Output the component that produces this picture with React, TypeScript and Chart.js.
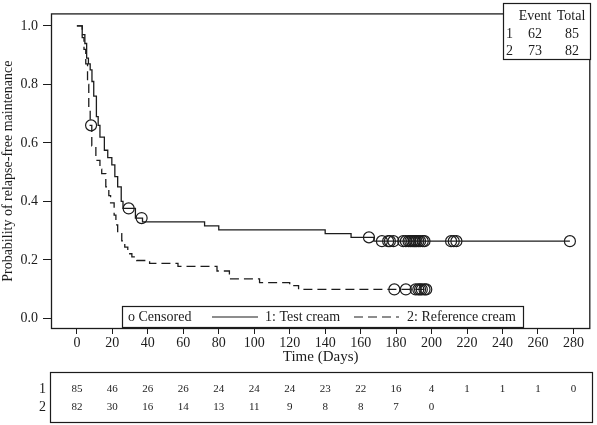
import React, { useEffect, useRef } from "react";
import { Chart, registerables } from "chart.js";
Chart.register(...registerables);

// ---- Data ----
const testTimes = [0, 3, 4.5, 5.5, 6.5, 7.5, 8.5, 9.5, 11, 12, 13, 15.5, 17.4, 19.7, 21.4, 23, 25, 26, 33, 37, 72, 80, 140, 154.6, 167.5, 278];
const testSurv = [1, 0.97, 0.94, 0.89, 0.87, 0.85, 0.81, 0.76, 0.69, 0.66, 0.62, 0.575, 0.55, 0.525, 0.485, 0.45, 0.4, 0.376, 0.343, 0.33, 0.316, 0.303, 0.29, 0.277, 0.264, 0.264];
const testCensored = [29.2, 36.5, 164.7, 172, 175.5, 176.5, 178.5, 184, 185.5, 187, 188, 189, 190, 190.7, 191.5, 192.5, 193.5, 195, 196, 211, 212.5, 214, 278];

const refTimes = [0, 3, 4, 5, 6, 6.7, 7.5, 8.4, 10.7, 13, 14, 16.3, 18, 19, 21, 22, 23, 25.3, 27, 28.7, 31, 33.7, 41, 57, 79, 86, 103, 120, 125, 197];
const refSurv = [1, 0.96, 0.92, 0.87, 0.8, 0.72, 0.66, 0.59, 0.54, 0.51, 0.495, 0.45, 0.42, 0.395, 0.353, 0.32, 0.29, 0.265, 0.244, 0.221, 0.21, 0.198, 0.188, 0.178, 0.162, 0.135, 0.122, 0.112, 0.099, 0.099];
const refCensored = [8, 179, 185.5, 191, 192.5, 193.5, 194.5, 196, 197];

const xTickValues = [0, 20, 40, 60, 80, 100, 120, 140, 160, 180, 200, 220, 240, 260, 280];
const yTickValues = [0, 0.2, 0.4, 0.6, 0.8, 1.0];

const riskTimes = [0, 20, 40, 60, 80, 100, 120, 140, 160, 180, 200, 220, 240, 260, 280];
const riskTest = [85, 46, 26, 26, 24, 24, 24, 23, 22, 16, 4, 1, 1, 1, 0];
const riskRef = [82, 30, 16, 14, 13, 11, 9, 8, 8, 7, 0];

const summaryHeader = ["Event", "Total"];
const summaryRows = [
  ["1", "62", "85"],
  ["2", "73", "82"],
];
const legendLabels = ["o Censored", "1: Test cream", "2: Reference cream"];

const FONT = "'Liberation Serif', 'Times New Roman', serif";
const INK = "#1c1c1c";

function stepValue(times: number[], surv: number[], t: number) {
  let v = surv[0];
  for (let i = 0; i < times.length; i++) if (times[i] <= t) v = surv[i];
  return v;
}

const decorPlugin = {
  id: "decor",
  afterDraw(chart: any) {
    const { ctx, chartArea: a, scales } = chart;
    const xs = scales.x;
    ctx.save();
    // frame
    ctx.strokeStyle = INK;
    ctx.lineWidth = 1.3;
    ctx.strokeRect(a.left + 0.5, a.top + 0.5, a.right - a.left - 1, a.bottom - a.top - 1);

    ctx.fillStyle = INK;
    ctx.textBaseline = "middle";

    // legend box at bottom
    ctx.lineWidth = 1.2;
    ctx.fillStyle = "#fff";
    ctx.fillRect(122.5, 306.5, 401, 21);
    ctx.strokeRect(122.5, 306.5, 401, 21);
    ctx.fillStyle = INK;
    ctx.font = `14px ${FONT}`;
    ctx.textAlign = "left";
    ctx.fillText(legendLabels[0], 128, 317);
    ctx.beginPath();
    ctx.moveTo(212, 317);
    ctx.lineTo(258, 317);
    ctx.stroke();
    ctx.fillText(legendLabels[1], 265, 317);
    ctx.setLineDash([9, 5]);
    ctx.beginPath();
    ctx.moveTo(354, 317);
    ctx.lineTo(399, 317);
    ctx.stroke();
    ctx.setLineDash([]);
    ctx.fillText(legendLabels[2], 407, 317);

    // event / total box
    ctx.fillStyle = "#fff";
    ctx.fillRect(503.5, 3.5, 87, 56);
    ctx.strokeRect(503.5, 3.5, 87, 56);
    ctx.fillStyle = INK;
    ctx.textAlign = "center";
    ctx.fillText(summaryHeader[0], 535, 16);
    ctx.fillText(summaryHeader[1], 571, 16);
    summaryRows.forEach((r, i) => {
      const y = 34 + i * 17.5;
      ctx.textAlign = "left";
      ctx.fillText(r[0], 506, y);
      ctx.textAlign = "center";
      ctx.fillText(r[1], 535, y);
      ctx.fillText(r[2], 572, y);
    });

    // at-risk table
    ctx.strokeRect(50.5, 372.5, 542, 50);
    ctx.font = `14px ${FONT}`;
    ctx.textAlign = "right";
    ctx.fillText("1", 46, 389);
    ctx.fillText("2", 46, 407);
    ctx.font = `11px ${FONT}`;
    ctx.textAlign = "center";
    riskTest.forEach((v, i) => ctx.fillText(String(v), xs.getPixelForValue(riskTimes[i]), 389));
    riskRef.forEach((v, i) => ctx.fillText(String(v), xs.getPixelForValue(riskTimes[i]), 407));
    ctx.restore();
  },
};

export default function App() {
  const ref = useRef<HTMLCanvasElement | null>(null);
  useEffect(() => {
    if (!ref.current) return;
    const circ = {
      pointStyle: "circle",
      pointRadius: 5.5,
      pointBorderWidth: 1.2,
      pointBackgroundColor: "rgba(0,0,0,0)",
      pointBorderColor: INK,
      showLine: false,
    };
    const chart = new Chart(ref.current, {
      type: "line",
      data: {
        datasets: [
          {
            data: testTimes.map((t, i) => ({ x: t, y: testSurv[i] })),
            stepped: true,
            borderColor: INK,
            borderWidth: 1.3,
            pointRadius: 0,
            fill: false,
          },
          {
            data: refTimes.map((t, i) => ({ x: t, y: refSurv[i] })),
            stepped: true,
            borderColor: INK,
            borderWidth: 1.3,
            borderDash: [9, 5],
            pointRadius: 0,
            fill: false,
          },
          {
            ...circ,
            data: testCensored.map((t) => ({ x: t, y: stepValue(testTimes, testSurv, t) })),
          },
          {
            ...circ,
            data: refCensored.map((t) => ({ x: t, y: stepValue(refTimes, refSurv, t) })),
          },
        ] as any,
      },
      options: {
        animation: false,
        responsive: false,
        devicePixelRatio: 1,
        layout: { padding: { top: 1, left: 0, right: 4, bottom: 59 } },
        plugins: { legend: { display: false }, tooltip: { enabled: false } },
        scales: {
          x: {
            type: "linear",
            min: -14.6,
            max: 289.5,
            afterBuildTicks: (s: any) => {
              s.ticks = xTickValues.map((v) => ({ value: v }));
            },
            afterFit: (s: any) => {
              s.height = 37;
            },
            border: { display: false },
            grid: { display: true, drawOnChartArea: false, drawTicks: true, tickLength: 5, color: INK },
            ticks: { font: { family: FONT, size: 14 }, color: INK, padding: 1, maxRotation: 0, autoSkip: false },
            title: { display: true, text: "Time (Days)", font: { family: FONT, size: 15 }, color: INK, padding: 0 },
          },
          y: {
            type: "linear",
            min: -0.0363,
            max: 1.0429,
            afterBuildTicks: (s: any) => {
              s.ticks = yTickValues.map((v) => ({ value: v }));
            },
            afterFit: (s: any) => {
              s.width = 51;
            },
            border: { display: false },
            grid: { display: true, drawOnChartArea: false, drawTicks: true, tickLength: 8, color: INK },
            ticks: {
              font: { family: FONT, size: 14 },
              color: INK,
              padding: 5,
              callback: (v: any) => Number(v).toFixed(1),
            },
            title: {
              display: true,
              text: "Probability of relapse-free maintenance",
              font: { family: FONT, size: 14 },
              color: INK,
              padding: 0,
            },
          },
        },
      } as any,
      plugins: [decorPlugin],
    });
    return () => chart.destroy();
  }, []);
  return (
    <div style={{ position: "absolute", left: 0, top: 0, width: 597, height: 425, background: "#fff" }}>
      <canvas ref={ref} width={597} height={425} style={{ width: 597, height: 425, display: "block" }} />
    </div>
  );
}
